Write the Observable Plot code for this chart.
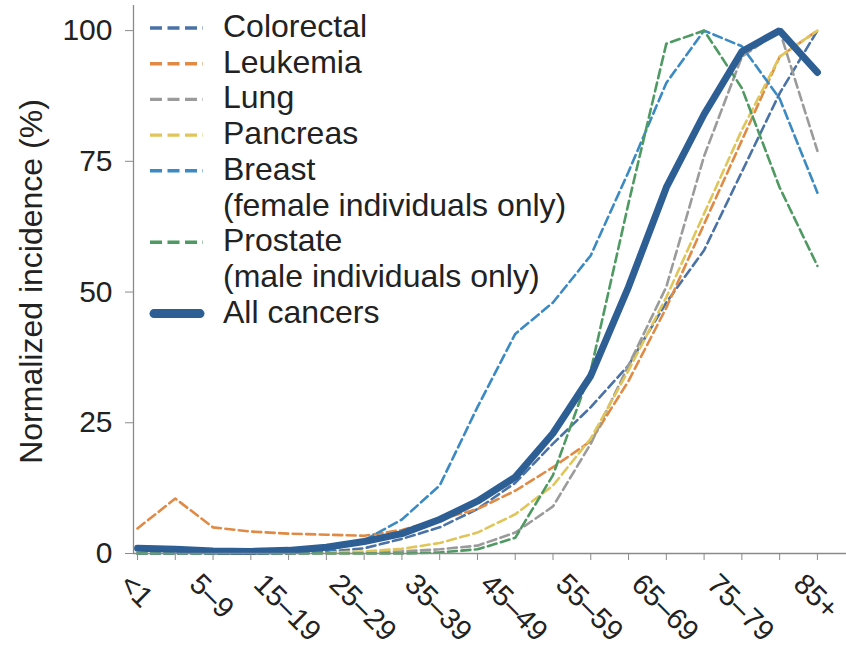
<!DOCTYPE html>
<html><head><meta charset="utf-8">
<script src="https://cdn.jsdelivr.net/npm/d3@7"></script>
<script src="https://cdn.jsdelivr.net/npm/@observablehq/plot@0.6"></script>
<style>
body{margin:0;background:#fff;}
#chart{position:relative;width:846px;height:647px;}
svg{font-family:"Liberation Sans",Arial,Helvetica,sans-serif;}
</style></head><body><div id="chart"></div>
<script>
const ageGroups = ["<1","1–4","5–9","10–14","15–19","20–24","25–29","30–34","35–39","40–44","45–49","50–54","55–59","60–64","65–69","70–74","75–79","80–84","85+"];
const colorectal = [0, 0, 0, 0, 0.1, 0.3, 1.0, 2.8, 5.0, 8.5, 13.5, 21, 28, 36, 48, 58, 73, 88, 100];
const leukemia   = [4.8, 10.5, 5.0, 4.2, 3.8, 3.6, 3.4, 4.5, 6.5, 8.5, 12, 16.5, 21.5, 33, 47, 63, 79, 95, 100];
const lung       = [0, 0, 0, 0, 0, 0.1, 0.2, 0.4, 0.8, 1.5, 4, 9, 21, 36, 51, 76, 95, 100, 77];
const pancreas   = [0, 0, 0, 0, 0.1, 0.2, 0.4, 0.9, 2, 4, 7.5, 13, 22, 35, 49, 65, 81, 95, 100];
const breast     = [0, 0, 0, 0, 0, 0.5, 2.5, 6.5, 13, 28, 42, 48, 57, 73, 90, 100, 97, 87, 69];
const prostate   = [0, 0, 0, 0, 0, 0, 0, 0, 0.2, 0.8, 3, 15, 35, 67, 97.5, 100, 89, 70, 55];
const allCancers = [1.0, 0.8, 0.5, 0.4, 0.6, 1.2, 2.3, 3.8, 6.5, 10, 14.6, 23, 34, 51, 70, 84, 96, 100, 92];

const seriesNames  = ["Colorectal","Leukemia","Lung","Pancreas","Breast","Prostate","All cancers"];
const seriesColors = ["#4a72a6","#e08a45","#9b9b9b","#e0c65a","#3b8ac4","#4f9a62","#2d5e94"];
const legendLines  = [["Colorectal"],["Leukemia"],["Lung"],["Pancreas"],["Breast","(female individuals only)"],["Prostate","(male individuals only)"],["All cancers"]];
const yTicks = [0, 25, 50, 75, 100];
const yLabel = "Normalized incidence (%)";

const seriesValues = [colorectal, leukemia, lung, pancreas, breast, prostate, allCancers];
const rows = [];
seriesNames.forEach((s, k) => seriesValues[k].forEach((v, i) => rows.push({series: s, i, v})));
const dashedRows = rows.filter(d => d.series !== "All cancers");
const allRows = rows.filter(d => d.series === "All cancers");

const xDomain = [-0.106, 18.77];
const plot = Plot.plot({
  width: 846, height: 647,
  marginLeft: 133, marginRight: 0, marginTop: 5, marginBottom: 94,
  x: {domain: xDomain},
  y: {domain: [0, 104.8]},
  color: {domain: seriesNames, range: seriesColors},
  style: {fontFamily: '"Liberation Sans", Arial, sans-serif', color: "#222", background: "#fff"},
  marks: [
    Plot.line(dashedRows, {x: "i", y: "v", z: "series", stroke: "series", strokeWidth: 2.6, strokeDasharray: "9,4.5"}),
    Plot.line(allRows, {x: "i", y: "v", stroke: "series", strokeWidth: 7, strokeLinejoin: "miter"}),
    Plot.ruleY([0], {stroke: "#8a8a8a", strokeWidth: 1.3}),
    Plot.ruleX([xDomain[0]], {stroke: "#8a8a8a", strokeWidth: 1.3}),
    Plot.axisY({ticks: yTicks, tickSize: 8, tickPadding: 13, fontSize: 30, label: null, stroke: "#8a8a8a"}),
    Plot.axisX({ticks: d3.range(ageGroups.length), tickFormat: i => i % 2 ? "" : ageGroups[i], tickSize: 7, tickRotate: 45, fontSize: 29, label: null, stroke: "#8a8a8a"}),
    Plot.text([yLabel], {frameAnchor: "left", text: d => d, rotate: -90, textAnchor: "middle", dx: -102, dy: 2, fontSize: 32, fill: "#222"})
  ]
});
document.getElementById("chart").appendChild(plot);

// position rotated x tick labels so each rotated box is centred under its tick
const xs = plot.scale("x");
const xg = plot.querySelector('g[aria-label="x-axis tick label"]');
if (xg) {
  xg.removeAttribute("transform");
  const h = 21;
  xg.querySelectorAll("text").forEach(t => {
    const i = ageGroups.indexOf(t.textContent);
    if (i < 0) return;
    const L = t.getComputedTextLength();
    const T = xs.apply(i);
    const ax = T - 0.3536 * (L + h), ay = 571 + 0.7071 * h;
    t.removeAttribute("x"); t.removeAttribute("y"); t.removeAttribute("dy");
    t.setAttribute("text-anchor", "start");
    t.setAttribute("transform", `translate(${ax},${ay}) rotate(45)`);
  });
}

// legend
const svg = d3.select(plot);
const lg = svg.append("g").attr("font-size", 32).attr("fill", "#222").attr("text-anchor", "start");
let line = 0;
const lineH = 35.7, base0 = 37;
legendLines.forEach((lines, k) => {
  const yb = base0 + lineH * line;
  const isAll = seriesNames[k] === "All cancers";
  lg.append("line").attr("x1", isAll ? 154 : 150).attr("x2", isAll ? 200 : 203)
    .attr("y1", yb - 9).attr("y2", yb - 9)
    .attr("stroke", seriesColors[k])
    .attr("stroke-width", isAll ? 9 : 3.4)
    .attr("stroke-linecap", isAll ? "round" : "butt")
    .attr("stroke-dasharray", isAll ? null : "12,5.5");
  lines.forEach((txt, j) => {
    lg.append("text").attr("x", 223).attr("y", base0 + lineH * (line + j)).attr("text-anchor", "start").text(txt);
  });
  line += lines.length;
});
</script></body></html>
